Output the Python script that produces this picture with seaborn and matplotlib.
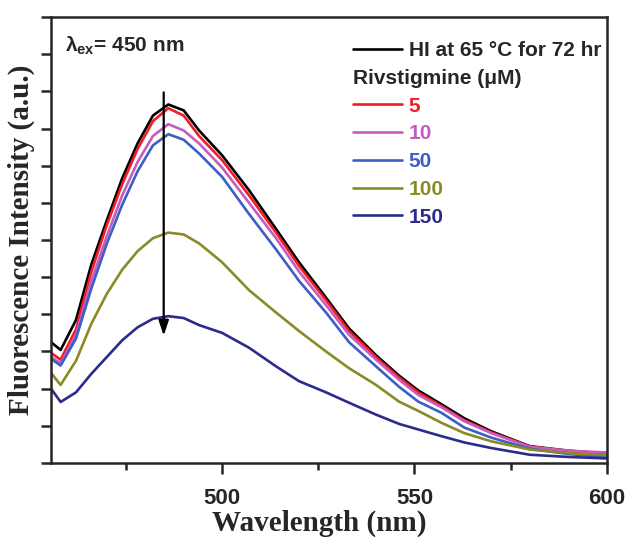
import numpy as np
import pandas as pd
import matplotlib
matplotlib.use("Agg")
import matplotlib.pyplot as plt
from matplotlib.lines import Line2D
from matplotlib.ticker import MultipleLocator
import seaborn as sns

# ---------------- data ----------------
wavelength = [455.5, 458, 462, 466, 470, 474, 478, 482, 486, 490, 494, 500, 507,
              514, 520, 527, 533, 540, 546, 551, 557, 563, 570, 580, 590, 600]

hi_control = [3.25, 3.04, 3.85, 5.35, 6.53, 7.66, 8.6, 9.35, 9.65, 9.49, 8.95, 8.28, 7.34,
              6.3, 5.4, 4.45, 3.62, 2.9, 2.35, 1.95, 1.58, 1.2, 0.85, 0.45, 0.33, 0.25]
riv_5 = [2.96, 2.78, 3.6, 5.15, 6.4, 7.5, 8.45, 9.2, 9.55, 9.35, 8.8, 8.15, 7.2,
         6.2, 5.3, 4.38, 3.55, 2.85, 2.3, 1.9, 1.53, 1.15, 0.82, 0.44, 0.32, 0.25]
riv_10 = [2.85, 2.68, 3.45, 4.9, 6.1, 7.2, 8.1, 8.8, 9.12, 8.95, 8.6, 7.95, 7.0,
          6.05, 5.15, 4.25, 3.45, 2.78, 2.24, 1.83, 1.5, 1.12, 0.8, 0.43, 0.33, 0.28]
riv_50 = [2.8, 2.62, 3.35, 4.7, 5.9, 6.95, 7.85, 8.55, 8.85, 8.7, 8.33, 7.7, 6.7,
          5.75, 4.9, 4.05, 3.25, 2.6, 2.05, 1.65, 1.35, 0.95, 0.68, 0.38, 0.24, 0.15]
riv_100 = [2.42, 2.1, 2.75, 3.75, 4.55, 5.2, 5.7, 6.05, 6.2, 6.15, 5.91, 5.4, 4.65,
           4.05, 3.55, 3.0, 2.55, 2.1, 1.65, 1.4, 1.08, 0.8, 0.58, 0.36, 0.26, 0.21]
riv_150 = [2.0, 1.64, 1.9, 2.4, 2.85, 3.3, 3.65, 3.88, 3.95, 3.9, 3.71, 3.5, 3.1,
           2.6, 2.2, 1.9, 1.62, 1.3, 1.05, 0.9, 0.72, 0.55, 0.4, 0.22, 0.16, 0.12]

series_names = ["HI at 65 °C for 72 hr", "5", "10", "50", "100", "150"]
series_values = [hi_control, riv_5, riv_10, riv_50, riv_100, riv_150]
colors = ["#000000", "#f21c24", "#c65cc0", "#3d5fc4", "#8a8a26", "#2b2b8c"]

df = pd.concat(
    [pd.DataFrame({"wavelength": wavelength, "intensity": vals, "sample": name})
     for name, vals in zip(series_names, series_values)],
    ignore_index=True,
)

# ---------------- plot ----------------
sns.set_style("ticks")
plt.rcParams["font.family"] = ["Liberation Sans", "DejaVu Sans"]
plt.rcParams["mathtext.fontset"] = "custom"
plt.rcParams["mathtext.bf"] = "Liberation Sans:bold"
plt.rcParams["mathtext.rm"] = "Liberation Sans:bold"

fig = plt.figure(figsize=(6.3, 5.37), dpi=100)
ax = fig.add_axes([0.081, 0.138, 0.882, 0.830])

palette = dict(zip(series_names, colors))
sns.lineplot(data=df, x="wavelength", y="intensity", hue="sample",
             hue_order=series_names, palette=palette, linewidth=1.9,
             legend=False, ax=ax)

ax.set_xlim(455.5, 600)
ax.set_ylim(0, 12)
ax.xaxis.set_major_locator(MultipleLocator(50))
ax.xaxis.set_minor_locator(MultipleLocator(25))
ax.yaxis.set_major_locator(MultipleLocator(1))
ax.set_yticklabels([])
ax.tick_params(axis="x", which="major", direction="out", length=8, width=1.8,
               labelsize=16, pad=10)
ax.tick_params(axis="x", which="minor", direction="out", length=5, width=1.8)
ax.tick_params(axis="y", which="major", direction="out", length=7, width=1.8)
for lab in ax.get_xticklabels():
    lab.set_fontweight("bold")
for sp in ax.spines.values():
    sp.set_linewidth(1.8)
    sp.set_visible(True)

ax.set_xlabel("Wavelength (nm)", family="Liberation Serif", fontweight="bold",
              fontsize=21)
ax.xaxis.set_label_coords(0.482, -0.104)
ax.xaxis.label.set_va("top")
ax.set_ylabel("Fluorescence Intensity (a.u.)", family="Liberation Serif",
              fontweight="bold", fontsize=21)
ax.yaxis.set_label_coords(-0.028, 0.5)

# arrow showing quenching
ax.annotate("", xy=(484.8, 3.35), xytext=(484.8, 10.05),
            arrowprops=dict(arrowstyle="-|>,head_length=0.9,head_width=0.3",
                            color="black", lw=1.6))

ax.text(0.025, 0.937, r"λ$_{\mathbf{ex}}$= 450 nm", transform=ax.transAxes,
        fontsize=15, fontweight="bold", va="center", ha="left")

# legends
handles = [Line2D([], [], color=c, lw=1.9) for c in colors]
leg1 = ax.legend(handles[:1], series_names[:1], loc="upper left",
                 bbox_to_anchor=(0.543, 0.946), frameon=False, borderpad=0,
                 borderaxespad=0, handlelength=2.35, handletextpad=0.33,
                 prop=dict(weight="bold", size=15))
ax.add_artist(leg1)
leg2 = ax.legend(handles[1:], series_names[1:], loc="upper left",
                 bbox_to_anchor=(0.543, 0.884), frameon=False, borderpad=0,
                 borderaxespad=0, handlelength=2.35, handletextpad=0.33,
                 labelspacing=0.42, labelcolor="linecolor",
                 title="Rivstigmine (μM)", alignment="left",
                 title_fontproperties=dict(weight="bold", size=15),
                 prop=dict(weight="bold", size=15))

fig.savefig("out.png", dpi=100)
